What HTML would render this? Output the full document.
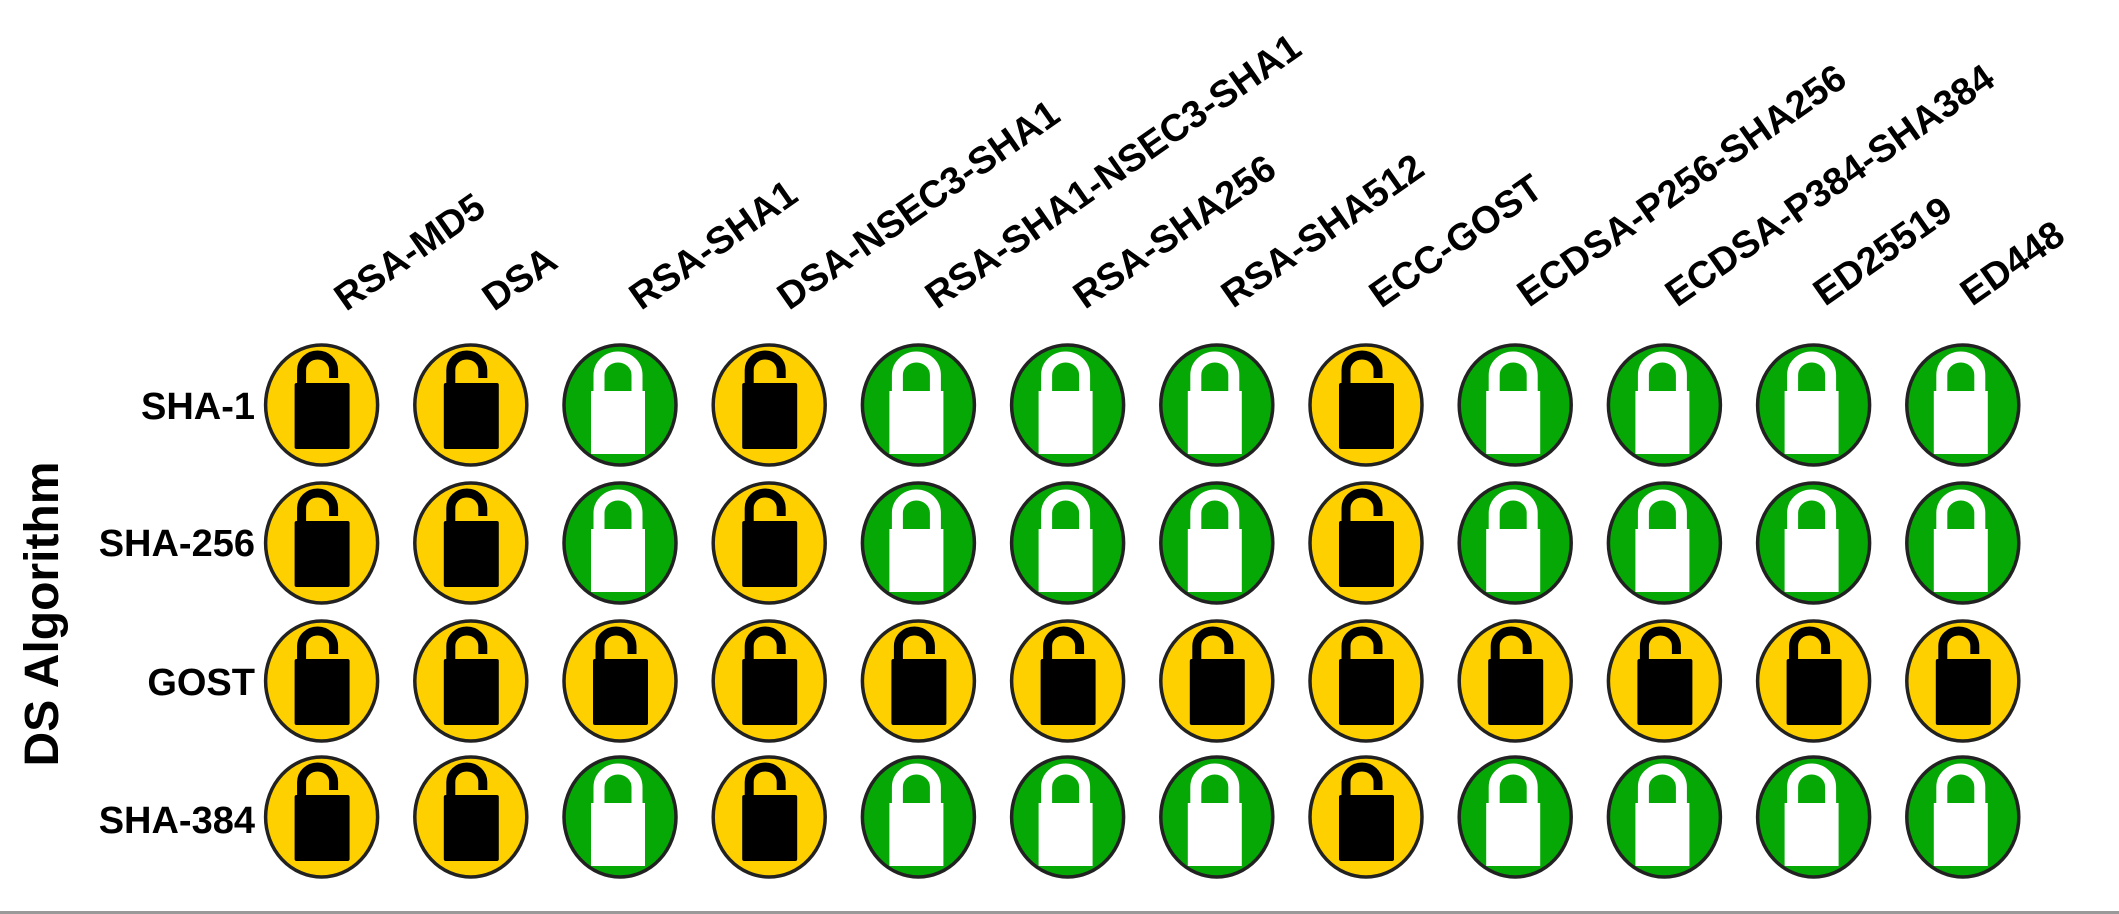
<!DOCTYPE html>
<html><head><meta charset="utf-8"><style>
html,body{margin:0;padding:0;background:#fff;}
svg{display:block;}
text{font-family:"Liberation Sans",Arial,sans-serif;font-weight:bold;fill:#000;}
</style></head><body>
<svg width="2119" height="914" viewBox="0 0 2119 914" xmlns="http://www.w3.org/2000/svg">
<defs>
<g id="Y">
<ellipse cx="0" cy="0" rx="56" ry="60" fill="#FFD000" stroke="#222" stroke-width="3.5"/>
<path d="M -20 -20 L -20 -35 A 16 15 0 0 1 12 -35 L 12 -27" fill="none" stroke="#000" stroke-width="9"/>
<rect x="-27" y="-22" width="55" height="66" rx="2" fill="#000"/>
</g>
<g id="G">
<ellipse cx="0" cy="0" rx="56" ry="60" fill="#05A805" stroke="#222" stroke-width="3.5"/>
<path d="M -21 -12 L -21 -30 A 19 18 0 0 1 17 -30 L 17 -12" fill="none" stroke="#fff" stroke-width="11"/>
<rect x="-29" y="-14" width="54" height="63" fill="#fff"/>
</g>
</defs>

<g font-size="38">
<text transform="translate(346,312) rotate(-35)">RSA-MD5</text>
<text transform="translate(494,312) rotate(-35)">DSA</text>
<text transform="translate(641,311) rotate(-35)">RSA-SHA1</text>
<text transform="translate(789,311) rotate(-35)">DSA-NSEC3-SHA1</text>
<text transform="translate(937,310) rotate(-35)">RSA-SHA1-NSEC3-SHA1</text>
<text transform="translate(1085,310) rotate(-35)">RSA-SHA256</text>
<text transform="translate(1233,309) rotate(-35)">RSA-SHA512</text>
<text transform="translate(1381,309) rotate(-35)">ECC-GOST</text>
<text transform="translate(1529,308) rotate(-35)">ECDSA-P256-SHA256</text>
<text transform="translate(1677,308) rotate(-35)">ECDSA-P384-SHA384</text>
<text transform="translate(1825,307) rotate(-35)">ED25519</text>
<text transform="translate(1972,307) rotate(-35)">ED448</text>
</g>

<g font-size="38" text-anchor="end">
<text x="255" y="419">SHA-1</text>
<text x="255" y="556">SHA-256</text>
<text x="255" y="695">GOST</text>
<text x="255" y="833">SHA-384</text>
</g>
<text font-size="48" text-anchor="middle" transform="translate(58,614) rotate(-90)">DS Algorithm</text>

<g transform="translate(0,405)">
<use href="#Y" x="321.6"/><use href="#Y" x="470.8"/><use href="#G" x="620"/><use href="#Y" x="769.2"/>
<use href="#G" x="918.4"/><use href="#G" x="1067.6"/><use href="#G" x="1216.8"/><use href="#Y" x="1366"/>
<use href="#G" x="1515.2"/><use href="#G" x="1664.4"/><use href="#G" x="1813.6"/><use href="#G" x="1962.8"/>
</g>
<g transform="translate(0,543)">
<use href="#Y" x="321.6"/><use href="#Y" x="470.8"/><use href="#G" x="620"/><use href="#Y" x="769.2"/>
<use href="#G" x="918.4"/><use href="#G" x="1067.6"/><use href="#G" x="1216.8"/><use href="#Y" x="1366"/>
<use href="#G" x="1515.2"/><use href="#G" x="1664.4"/><use href="#G" x="1813.6"/><use href="#G" x="1962.8"/>
</g>
<g transform="translate(0,681)">
<use href="#Y" x="321.6"/><use href="#Y" x="470.8"/><use href="#Y" x="620"/><use href="#Y" x="769.2"/>
<use href="#Y" x="918.4"/><use href="#Y" x="1067.6"/><use href="#Y" x="1216.8"/><use href="#Y" x="1366"/>
<use href="#Y" x="1515.2"/><use href="#Y" x="1664.4"/><use href="#Y" x="1813.6"/><use href="#Y" x="1962.8"/>
</g>
<g transform="translate(0,817)">
<use href="#Y" x="321.6"/><use href="#Y" x="470.8"/><use href="#G" x="620"/><use href="#Y" x="769.2"/>
<use href="#G" x="918.4"/><use href="#G" x="1067.6"/><use href="#G" x="1216.8"/><use href="#Y" x="1366"/>
<use href="#G" x="1515.2"/><use href="#G" x="1664.4"/><use href="#G" x="1813.6"/><use href="#G" x="1962.8"/>
</g>

<rect x="0" y="911" width="2119" height="3" fill="#999"/>
</svg>
</body></html>
